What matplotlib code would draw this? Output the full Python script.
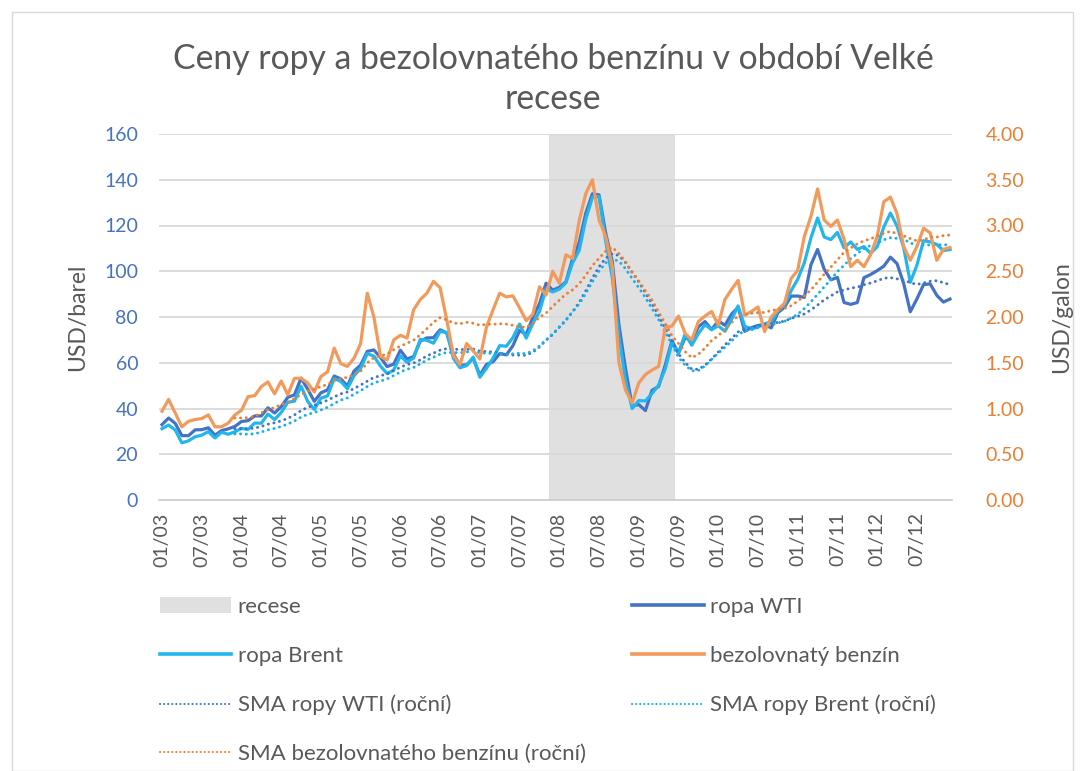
import numpy as np
import pandas as pd
import matplotlib
matplotlib.use('Agg')
import matplotlib.pyplot as plt
from matplotlib.patches import Patch, Rectangle
from matplotlib.lines import Line2D

plt.rcParams['font.family'] = ['Lato', 'DejaVu Sans']

# monthly prices 01/2003 - 12/2012
wti = [32.95, 35.83, 33.51, 28.17, 28.11, 30.66, 30.75, 31.57, 28.31, 30.34, 31.11, 32.13,
       34.31, 34.69, 36.74, 36.75, 40.28, 38.03, 40.78, 44.90, 45.94, 53.28, 48.47, 43.15,
       46.84, 48.15, 54.19, 52.98, 49.83, 56.35, 58.99, 64.98, 65.59, 62.26, 58.32, 59.41,
       65.49, 61.63, 62.69, 69.44, 70.84, 70.95, 74.41, 73.04, 63.80, 58.89, 59.08, 61.96,
       54.51, 59.28, 60.44, 63.98, 63.46, 67.49, 74.12, 72.36, 79.92, 85.80, 94.77, 91.69,
       92.97, 95.39, 105.45, 112.58, 125.40, 133.88, 133.37, 116.67, 104.11, 76.61, 57.31, 41.12,
       41.71, 39.09, 47.94, 49.65, 59.03, 69.64, 64.15, 71.05, 69.41, 75.72, 77.99, 74.47,
       78.33, 76.39, 81.20, 84.29, 73.74, 75.34, 76.32, 76.60, 75.24, 81.89, 84.25, 89.15,
       89.17, 88.58, 102.86, 109.53, 100.90, 96.26, 97.30, 86.33, 85.52, 86.32, 97.16, 98.56,
       100.27, 102.20, 106.16, 103.32, 94.66, 82.30, 87.90, 94.13, 94.51, 89.49, 86.53, 87.86]

brent = [31.18, 32.77, 30.61, 25.00, 25.86, 27.65, 28.35, 29.89, 27.11, 29.61, 28.75, 29.81,
         31.28, 30.86, 33.63, 33.59, 37.57, 35.18, 38.22, 42.74, 43.20, 49.78, 43.11, 39.60,
         44.51, 45.48, 53.10, 51.88, 48.65, 54.35, 57.52, 63.98, 62.91, 58.54, 55.24, 56.86,
         62.99, 60.21, 62.06, 70.26, 69.78, 68.56, 73.67, 73.23, 61.96, 57.81, 58.76, 62.47,
         53.68, 57.56, 62.05, 67.49, 67.21, 71.05, 76.93, 70.76, 77.17, 82.34, 92.41, 90.93,
         92.18, 94.99, 103.64, 109.07, 122.80, 132.32, 132.72, 113.24, 97.23, 71.58, 52.45, 39.95,
         43.44, 43.32, 46.54, 50.18, 57.30, 68.61, 64.44, 72.51, 67.65, 72.77, 76.66, 74.46,
         76.17, 73.75, 78.83, 84.82, 75.95, 74.76, 75.58, 77.04, 77.84, 82.67, 85.28, 91.45,
         96.52, 103.72, 114.64, 123.26, 114.99, 113.83, 116.97, 110.22, 112.83, 109.55, 110.77, 107.87,
         110.69, 119.33, 125.45, 119.75, 110.34, 95.16, 102.62, 113.36, 112.86, 111.71, 109.06, 109.49]

benzin = [0.97, 1.10, 0.95, 0.80, 0.86, 0.88, 0.89, 0.93, 0.80, 0.80, 0.84, 0.93,
          0.98, 1.13, 1.14, 1.24, 1.29, 1.16, 1.30, 1.15, 1.33, 1.33, 1.28, 1.18,
          1.35, 1.40, 1.66, 1.49, 1.46, 1.55, 1.71, 2.26, 2.00, 1.57, 1.53, 1.75,
          1.80, 1.77, 2.08, 2.19, 2.26, 2.39, 2.32, 1.97, 1.58, 1.48, 1.71, 1.63,
          1.54, 1.89, 2.08, 2.26, 2.22, 2.23, 2.10, 1.96, 2.03, 2.33, 2.24, 2.50,
          2.37, 2.68, 2.64, 3.05, 3.35, 3.50, 3.06, 2.88, 2.55, 1.50, 1.20, 1.06,
          1.28, 1.37, 1.42, 1.46, 1.89, 1.90, 2.01, 1.82, 1.75, 1.95, 2.01, 2.06,
          1.91, 2.19, 2.30, 2.40, 2.02, 2.06, 2.11, 1.84, 2.00, 2.08, 2.15, 2.42,
          2.51, 2.88, 3.10, 3.40, 3.06, 2.99, 3.06, 2.85, 2.55, 2.62, 2.55, 2.68,
          2.88, 3.26, 3.31, 3.13, 2.77, 2.62, 2.77, 2.97, 2.92, 2.62, 2.74, 2.76]

tick_labels = ['01/03', '07/03', '01/04', '07/04', '01/05', '07/05', '01/06', '07/06',
               '01/07', '07/07', '01/08', '07/08', '01/09', '07/09', '01/10', '07/10',
               '01/11', '07/11', '01/12', '07/12']
recese_od = 59   # 12/2007
recese_do = 77   # 06/2009

x = np.arange(len(wti))
# roční klouzavý průměr (12 měsíců), jako trendline v Excelu
sma_wti = pd.Series(wti).rolling(12).mean()
sma_brent = pd.Series(brent).rolling(12).mean()
sma_benzin = pd.Series(benzin).rolling(12).mean()

c_wti = '#4472c4'
c_brent = '#22b5ee'
c_benz = '#f19a5c'
c_benz_sma = '#ed7d31'
c_brent_sma = '#13b0f0'
grey = '#595959'

W, H = 1085, 771
fig = plt.figure(figsize=(W / 100, H / 100), dpi=100)
ax = fig.add_axes([159 / W, 1 - 500 / H, (952 - 159) / W, (500 - 134) / H])
ax2 = ax.twinx()

ax.axvspan(recese_od - 0.5, recese_do + 0.5, color='#e0e0e0', lw=0, zorder=0)
ax.plot(x, wti, color=c_wti, lw=2.3, zorder=3)
ax.plot(x, brent, color=c_brent, lw=2.3, zorder=3)
dot = (0, (0.05, 1.9))
ax.plot(x, sma_wti, color=c_wti, lw=2.1, ls=dot, dash_capstyle='round', zorder=4)
ax.plot(x, sma_brent, color=c_brent_sma, lw=2.1, ls=dot, dash_capstyle='round', zorder=4)
ax2.plot(x, benzin, color=c_benz, lw=2.3)
ax2.plot(x, sma_benzin, color=c_benz_sma, lw=2.1, ls=dot, dash_capstyle='round')

ax.set_xlim(-0.45, 119.3)
ax.set_ylim(0, 160)
ax2.set_ylim(0, 4)
ax.set_yticks(np.arange(0, 161, 20))
ax2.set_yticks(np.arange(0, 4.01, 0.5))
ax2.set_yticklabels([f'{v:.2f}' for v in np.arange(0, 4.01, 0.5)])
ax.set_xticks(np.arange(0, 120, 6))
ax.set_xticklabels(tick_labels, rotation=90)

ax.grid(axis='y', color='#d9d9d9', lw=1.3)
ax.set_axisbelow(True)
for a in (ax, ax2):
    for s in a.spines.values():
        s.set_visible(False)
ax.spines['bottom'].set_visible(True)
ax.spines['bottom'].set_color('#d0d0d0')
ax.spines['bottom'].set_linewidth(1.3)

ax.tick_params(axis='y', length=0, pad=15, labelsize=14, labelcolor=c_wti)
ax2.tick_params(axis='y', length=0, pad=24, labelsize=14, labelcolor=c_benz_sma)
ax.tick_params(axis='x', length=0, pad=9, labelsize=14, labelcolor=grey)

fig.text(553 / W, 1 - 79 / H, 'Ceny ropy a bezolovnatého benzínu v období Velké\nrecese',
         ha='center', va='center', fontsize=24.3, color=grey, linespacing=1.3)
fig.text(78 / W, 1 - 317 / H, 'USD/barel', rotation=90, ha='center', va='center',
         fontsize=16.5, color=grey)
fig.text(1062 / W, 1 - 317 / H, 'USD/galon', rotation=90, ha='center', va='center',
         fontsize=16.5, color=grey)

handles = [Patch(facecolor='#e0e0e0', edgecolor='none'),
           Line2D([], [], color=c_brent, lw=2.6),
           Line2D([], [], color=c_wti, lw=1.5, ls=dot, dash_capstyle='round'),
           Line2D([], [], color=c_benz_sma, lw=1.5, ls=dot, dash_capstyle='round'),
           Line2D([], [], color=c_wti, lw=2.6),
           Line2D([], [], color=c_benz, lw=2.6),
           Line2D([], [], color=c_brent_sma, lw=1.5, ls=dot, dash_capstyle='round')]
labels = ['recese', 'ropa Brent', 'SMA ropy WTI (roční)', 'SMA bezolovnatého benzínu (roční)',
          'ropa WTI', 'bezolovnatý benzín', 'SMA ropy Brent (roční)']
fig.legend(handles, labels, ncol=2, loc='upper left', bbox_to_anchor=(160 / W, 1 - 597 / H),
           frameon=False, fontsize=16, labelcolor=grey, handlelength=3.2, handletextpad=0.3,
           columnspacing=2.1, labelspacing=1.3, borderaxespad=0, borderpad=0)

fig.add_artist(Rectangle((12 / W, 0), (1073 - 12) / W, 1 - 12 / H, transform=fig.transFigure,
                         fill=False, edgecolor='#d9d9d9', lw=1))

fig.savefig('out.png', dpi=100)
